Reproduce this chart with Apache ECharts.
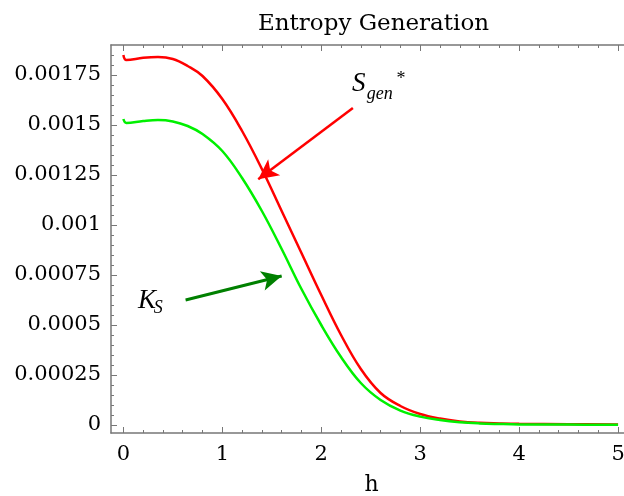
<!DOCTYPE html>
<html><head><meta charset="utf-8">
<script src="https://cdn.jsdelivr.net/npm/echarts@6/dist/echarts.min.js"></script>
<style>html,body{margin:0;padding:0;background:#fff}#c{width:624px;height:496px}</style>
</head><body><div id="c"></div>
<script>
// ---- data ----
const hValues    = [0, 0.03, 0.2, 0.35, 0.5, 0.65, 0.8, 1.0, 1.2, 1.4, 1.6, 1.8, 2.0, 2.2, 2.4, 2.6, 2.8, 3.0, 3.2, 3.4, 3.6, 3.8, 4.0, 4.5, 5.0];
const sgenValues = [0.00185, 0.001825, 0.001836, 0.00184, 0.00183, 0.001795, 0.001745, 0.00163, 0.00147, 0.00128, 0.00107, 0.00086, 0.00065, 0.00045, 0.00028, 0.00016, 0.000095, 0.000055, 0.000032, 0.000018, 0.000011, 0.000008, 0.000006, 0.000004, 0.000003];
const ksValues   = [0.00153, 0.00151, 0.00152, 0.001525, 0.001518, 0.001495, 0.001455, 0.00137, 0.001235, 0.00107, 0.00088, 0.00068, 0.0005, 0.00034, 0.00021, 0.000125, 0.000072, 0.000042, 0.000025, 0.000014, 0.000008, 0.000005, 0.000003, 0.000002, 0.000001];
const xMajorTicks = [0, 1, 2, 3, 4, 5];
const xTickLabels = ['0', '1', '2', '3', '4', '5'];
const xMinorTicks = [0.2,0.4,0.6,0.8,1.2,1.4,1.6,1.8,2.2,2.4,2.6,2.8,3.2,3.4,3.6,3.8,4.2,4.4,4.6,4.8];
const yMajorTicks = [0, 0.00025, 0.0005, 0.00075, 0.001, 0.00125, 0.0015, 0.00175];
const yTickLabels = ['0', '0.00025', '0.0005', '0.00075', '0.001', '0.00125', '0.0015', '0.00175'];
const yMinorTicks = [0.00005,0.0001,0.00015,0.0002,0.0003,0.00035,0.0004,0.00045,0.00055,0.0006,0.00065,0.0007,0.0008,0.00085,0.0009,0.00095,0.00105,0.0011,0.00115,0.0012,0.0013,0.00135,0.0014,0.00145,0.00155,0.0016,0.00165,0.0017,0.0018,0.00185];
const redArrow   = [[2.32, 0.001585], [1.363, 0.001229]];
const greenArrow = [[0.629, 0.000625], [1.6, 0.000745]];

const sgenData = hValues.map((h, i) => [h, sgenValues[i]]);
const ksData = hValues.map((h, i) => [h, ksValues[i]]);

const AX = '#777';
const XMIN = -0.125, XMAX = 5.06, YMIN = -0.00004, YMAX = 0.0019;
const tickFont = {fontFamily: 'DejaVu Serif', fontSize: 21, color: '#000'};
function lbl(vals, labels) { return v => { const i = vals.findIndex(t => Math.abs(t - v) < 1e-9); return i >= 0 ? labels[i] : ''; }; }

function xAx(pos, ticks, len, showLine, showLabel, extra) {
  return Object.assign({
    type: 'value', min: XMIN, max: XMAX, position: pos,
    axisLine: {show: showLine, onZero: false, lineStyle: {color: AX, width: 1.5}},
    axisTick: {show: true, inside: true, length: len, customValues: ticks, lineStyle: {color: AX, width: 1}},
    axisLabel: showLabel ? Object.assign({show: true, customValues: xMajorTicks, margin: 11, formatter: lbl(xMajorTicks, xTickLabels)}, tickFont) : {show: false},
    splitLine: {show: false}
  }, extra || {});
}
function yAx(ticks, len, showLine, showLabel) {
  return {
    type: 'value', min: YMIN, max: YMAX, position: 'left',
    axisLine: {show: showLine, onZero: false, lineStyle: {color: AX, width: 1.5}},
    axisTick: {show: true, inside: true, length: len, customValues: ticks, lineStyle: {color: AX, width: 1}},
    axisLabel: showLabel ? Object.assign({show: true, customValues: yMajorTicks, margin: 10, formatter: lbl(yMajorTicks, yTickLabels)}, tickFont) : {show: false},
    splitLine: {show: false}
  };
}

const chart = echarts.init(document.getElementById('c'), null, {renderer: 'canvas'});
chart.setOption({
  animation: false,
  backgroundColor: '#fff',
  title: {text: 'Entropy Generation', left: 253, top: 8,
    textStyle: {fontFamily: 'DejaVu Serif', fontSize: 23, fontWeight: 'normal', color: '#000'}},
  grid: {left: 111, right: 0, top: 45, bottom: 63, outerBoundsMode: 'none'},
  xAxis: [
    xAx('bottom', xMajorTicks, 6, true, true, {name: 'h', nameLocation: 'middle', nameGap: 41,
      nameTextStyle: {fontFamily: 'DejaVu Serif', fontSize: 22, color: '#000', padding: [0, 0, 0, 8]}}),
    xAx('bottom', xMinorTicks, 3, false, false),
    xAx('top', xMajorTicks, 6, true, false),
    xAx('top', xMinorTicks, 3, false, false)
  ],
  yAxis: [yAx(yMajorTicks, 6, true, true), yAx(yMinorTicks, 3, false, false)],
  series: [
    {type: 'line', name: 'Sgen', data: sgenData, showSymbol: false, smooth: 0.4,
     lineStyle: {color: '#ff0000', width: 2.5}, z: 3,
     markLine: {silent: true, symbol: ['none', 'arrow'], symbolSize: [15, 20], label: {show: false},
       lineStyle: {color: '#ff0000', width: 2.5, type: 'solid'},
       data: [[{coord: redArrow[0]}, {coord: redArrow[1]}]]}},
    {type: 'line', name: 'KS', data: ksData, showSymbol: false, smooth: 0.4,
     lineStyle: {color: '#00f000', width: 2.5}, z: 4,
     markLine: {silent: true, symbol: ['none', 'arrow'], symbolSize: [15, 20], label: {show: false},
       lineStyle: {color: '#008000', width: 3, type: 'solid'},
       data: [[{coord: greenArrow[0]}, {coord: greenArrow[1]}]]}}
  ]
});

function px(h, v) { return chart.convertToPixel({gridIndex: 0}, [h, v]); }
const F = 'Liberation Serif';
const texts = [
  {t: 'S',   h: 2.31,  v: 0.001705, f: 'italic 27px "' + F + '"'},
  {t: 'gen', h: 2.46,  v: 0.001655, f: 'italic 18px "' + F + '"'},
  {t: '*',   h: 2.76,  v: 0.00173,  f: '18px "' + F + '"'},
  {t: 'K',   h: 0.147, v: 0.00062,  f: 'italic 27px "' + F + '"'},
  {t: 'S',   h: 0.308, v: 0.000585, f: 'italic 18px "' + F + '"'}
];
chart.setOption({
  graphic: texts.map(o => { const p = px(o.h, o.v); return {type: 'text', x: p[0], y: p[1], z: 10,
    style: {text: o.t, font: o.f, fill: '#000', align: 'left', verticalAlign: 'middle'}}; })
});
</script></body></html>
